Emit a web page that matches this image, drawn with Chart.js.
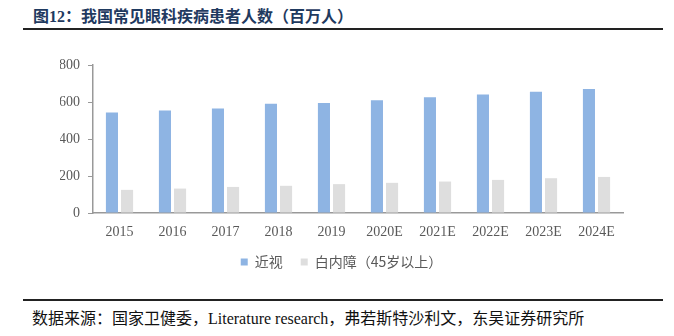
<!DOCTYPE html>
<html>
<head>
<meta charset="utf-8">
<script src="https://cdn.jsdelivr.net/npm/chart.js@4"></script>
<style>
  body { margin: 0; background: #fff; width: 674px; height: 336px; position: relative; overflow: hidden; }
  .title { position: absolute; left: 33px; top: 3px; font: bold 16px "Liberation Serif", "Noto Sans CJK SC", serif; color: #1f3a60; white-space: nowrap; }
  .rule { position: absolute; left: 23px; width: 640px; background: #222; }
  .source { position: absolute; left: 32px; top: 305px; font: 16px "Liberation Serif", "Noto Sans CJK SC", serif; color: #111; white-space: nowrap; }
  #wrap { position: absolute; left: 0; top: 0; width: 674px; height: 282px; }
</style>
</head>
<body>
<div class="title">图12：我国常见眼科疾病患者人数（百万人）</div>
<div class="rule" style="top:28px;height:2px"></div>
<div id="wrap"><canvas id="chart"></canvas></div>
<div class="rule" style="top:299px;height:1.5px"></div>
<div class="source">数据来源：国家卫健委，Literature research，弗若斯特沙利文，东吴证券研究所</div>

<script>
const years = ["2015", "2016", "2017", "2018", "2019", "2020E", "2021E", "2022E", "2023E", "2024E"];
const myopia = [543, 554, 565, 590, 595, 609, 626, 641, 656, 670];
const cataract = [125, 132, 141, 147, 156, 163, 170, 179, 188, 195];
const yTicks = [0, 200, 400, 600, 800];

const serif = "'Liberation Serif', 'Times New Roman', serif";

new Chart(document.getElementById("chart"), {
  type: "bar",
  data: {
    labels: years,
    datasets: [
      { label: "近视", data: myopia, backgroundColor: "#8eb4e3", borderWidth: 0 },
      { label: "白内障（45岁以上）", data: cataract, backgroundColor: "#dedede", borderWidth: 0 },
    ],
  },
  options: {
    responsive: true,
    maintainAspectRatio: false,
    animation: false,
    barPercentage: 0.8,
    categoryPercentage: 0.57,
    layout: { padding: { top: 65, right: 51, bottom: 3, left: 60 } },
    plugins: {
      tooltip: { enabled: false },
      legend: {
        position: "bottom",
        labels: {
          boxWidth: 7,
          boxHeight: 7,
          padding: 18,
          color: "#595959",
          font: { size: 14, family: "'Noto Sans CJK SC', sans-serif" },
        },
      },
    },
    scales: {
      x: {
        grid: { display: false },
        border: { color: "#999", width: 1.5 },
        ticks: { color: "#595959", font: { size: 14, family: serif }, padding: 3, maxRotation: 0 },
        afterFit: (s) => { s.height = 24; },
      },
      y: {
        min: 0,
        max: 800,
        afterBuildTicks: (s) => { s.ticks = yTicks.map((v) => ({ value: v })); },
        afterFit: (s) => { s.width = 33; },
        grid: { drawOnChartArea: false, drawTicks: true, tickLength: 5, color: "#999" },
        border: { color: "#999", width: 1.5 },
        ticks: { color: "#595959", font: { size: 14, family: serif }, padding: 8 },
      },
    },
  },
});
</script>
</body>
</html>
